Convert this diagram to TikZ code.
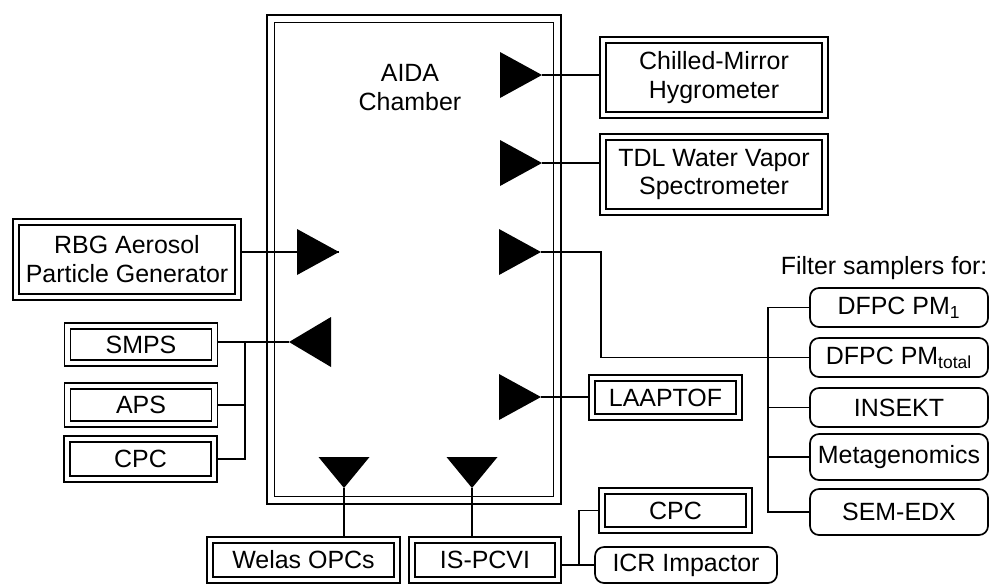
\documentclass[tikz,border=0pt]{standalone}
\usepackage{fontspec}
\setmainfont{Liberation Sans}
\usepackage{tikz}
\usetikzlibrary{positioning,calc}

\begin{document}
\begin{tikzpicture}[x=0.02cm, y=-0.02cm,
    font=\fontsize{14.2}{16.5}\selectfont,
    every path/.style={line width=0.034cm},
    instr/.style={draw, double, double distance=0.085cm, outer sep=0.077cm,
      align=center, inner sep=0pt},
    filt/.style={draw, rounded corners=0.18cm, align=center, inner sep=0pt,
      minimum width=3.56cm},
    chamber/.style={draw, double, double distance=0.12cm, inner sep=0pt},
    inlet/.style={fill=black}]

  \useasboundingbox (0,0) rectangle (990,585);

  % Chamber
  \node[chamber, minimum width=5.74cm, minimum height=9.64cm] (aida) at (414,259.5) {};
  \node[align=center] (aidatxt) at (410,88) {AIDA\\Chamber};

  % Instruments
  \node[instr, minimum width=4.44cm, minimum height=1.5cm] (chill) at (714,77.5) {Chilled-Mirror\\Hygrometer};
  \node[instr, minimum width=4.44cm, minimum height=1.5cm] (tdl) at (714,174.5) {TDL Water Vapor\\Spectrometer};
  \node[instr, minimum width=4.44cm, minimum height=1.5cm] (rbg) at (127,259.5) {RBG Aerosol\\Particle Generator};
  \node[instr, minimum width=2.94cm, minimum height=0.74cm] (smps) at (141,344.5) {SMPS};
  \node[instr, minimum width=2.94cm, minimum height=0.76cm] (aps) at (141,405) {APS};
  \node[instr, minimum width=2.94cm, minimum height=0.8cm] (cpcl) at (140.5,459) {CPC};
  \node[instr, minimum width=3.74cm, minimum height=0.8cm] (welas) at (303.5,560) {Welas OPCs};
  \node[instr, minimum width=2.92cm, minimum height=0.8cm] (ispcvi) at (485,560) {IS-PCVI};
  \node[instr, minimum width=2.94cm, minimum height=0.78cm] (cpcr) at (675.5,510.5) {CPC};
  \node[instr, minimum width=2.94cm, minimum height=0.78cm] (laaptof) at (665.5,397.5) {LAAPTOF};
  \node[filt, minimum width=3.64cm, minimum height=0.72cm] (icr) at (686,565) {ICR Impactor};

  % Filter samplers
  \node[anchor=east, inner xsep=1pt] (filttxt) at (990,268) {Filter samplers for:};
  \node[filt, minimum height=0.78cm] (pm1) at (899,307.5) {DFPC PM\textsubscript{1}};
  \node[filt, minimum height=0.78cm] (pmtot) at (899,357.5) {DFPC PM\textsubscript{total}};
  \node[filt, minimum height=0.78cm] (insekt) at (899,407.5) {INSEKT};
  \node[filt, minimum height=0.92cm] (meta) at (899,457) {Metagenomics};
  \node[filt, minimum height=0.92cm] (sem) at (899,512) {SEM-EDX};

  % Inlets
  \coordinate (t1) at (542,75);
  \coordinate (t2) at (542,163);
  \coordinate (t3) at (541,252);
  \coordinate (t4) at (541,397);
  \coordinate (t5) at (339,252);
  \coordinate (t6) at (289,342);
  \coordinate (t7) at (344,488);
  \coordinate (t8) at (472,488);
  \foreach \t in {t1,t2,t3,t4,t5}
    \fill[inlet] (\t) -- ++(-42,-23) -- ++(0,46) -- cycle;
  \fill[inlet] (t6) -- ++(42,-25) -- ++(0,50) -- cycle;
  \foreach \t in {t7,t8}
    \fill[inlet] (\t) -- ++(-25.5,-31) -- ++(51,0) -- cycle;

  % Connections
  \draw (t1) -- (t1 -| chill.west);
  \draw (t2) -- (t2 -| tdl.west);
  \draw (t4) -- (t4 -| laaptof.west);
  \draw (rbg.east |- t5) -- (t5);
  \draw (smps.east |- t6) -- (t6);
  \draw (cpcl.east) -- ++(27,0) |- (smps.east |- t6);
  \draw (aps.east) -- ++(27,0);
  \draw (t7) -- (t7 |- welas.north);
  \draw (t8) -- (t8 |- ispcvi.north);
  \draw (ispcvi.east |- icr.west) -- (icr.west);
  \draw (icr.west) -- ++(-15,0) |- (cpcr.west);
  \draw (t3) -- ++(60,0) |- (pmtot.west);
  \draw (pm1.west) -- ++(-41,0) |- (sem.west);
  \foreach \n in {insekt,meta}
    \draw (\n.west) -- ++(-41,0);
\end{tikzpicture}
\end{document}
